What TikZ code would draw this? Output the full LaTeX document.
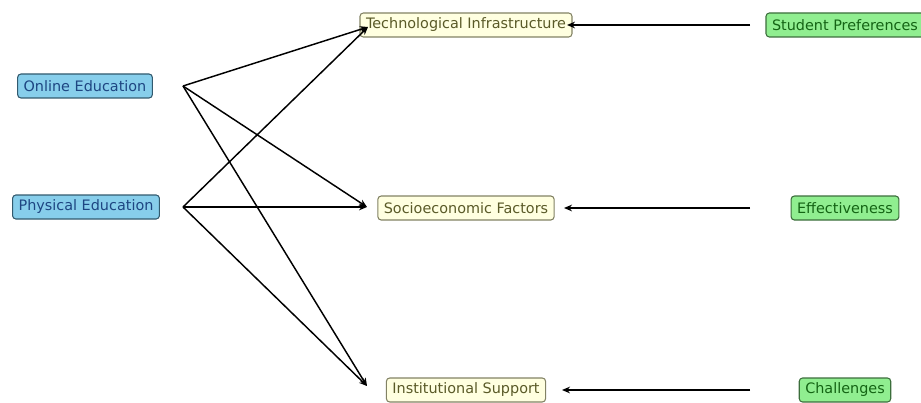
\documentclass[tikz,border=0pt]{standalone}
\usepackage{fontspec}
\setmainfont{DejaVu Sans}
\usepackage{xcolor}
\usepackage{tikz}
\usetikzlibrary{arrows.meta,positioning}
\definecolor{edublue}{RGB}{135,206,235}
\definecolor{edublueline}{RGB}{50,90,110}
\definecolor{edubluetext}{RGB}{30,70,130}
\definecolor{factyellow}{RGB}{255,255,224}
\definecolor{factyellowline}{RGB}{130,130,100}
\definecolor{factyellowtext}{RGB}{90,90,40}
\definecolor{outgreen}{RGB}{144,238,144}
\definecolor{outgreenline}{RGB}{60,110,60}
\definecolor{outgreentext}{RGB}{20,100,20}

\begin{document}
\begin{tikzpicture}[
    x=0.75pt, y=-0.75pt,
    mode/.style={rectangle, draw=edublueline, fill=edublue, rounded corners=2.5pt, line width=0.8pt, minimum height=18pt, inner xsep=4.5pt, text=edubluetext, font=\fontsize{10.8}{12}\selectfont},
    factor/.style={rectangle, draw=factyellowline, fill=factyellow, rounded corners=2.5pt, line width=0.8pt, minimum height=18pt, inner xsep=4.5pt, text=factyellowtext, font=\fontsize{10.8}{12}\selectfont},
    outcome/.style={rectangle, draw=outgreenline, fill=outgreen, rounded corners=2.5pt, line width=0.8pt, minimum height=18pt, inner xsep=4.5pt, text=outgreentext, font=\fontsize{10.8}{12}\selectfont},
    link/.style={line width=1.1pt, -{Stealth[length=6pt,width=5pt]}}
]
    \useasboundingbox (0,0) rectangle (921,403);

    % boxes
    \node[mode] (online) at (85,86) {Online Education};
    \node[mode] (physical) at (86,207) {Physical Education};
    \node[factor] (tech) at (466,25) {Technological Infrastructure};
    \node[factor] (socio) at (466,208) {Socioeconomic Factors};
    \node[factor] (inst) at (466,390) {Institutional Support};
    \node[outcome] (prefs) at (845,25) {Student Preferences};
    \node[outcome] (effect) at (845,208) {Effectiveness};
    \node[outcome] (chall) at (845,390) {Challenges};

    % edge ends
    \coordinate (onlineR) at (183,86);
    \coordinate (physicalR) at (183,207);
    \coordinate (techL) at (368,27);
    \coordinate (socioL) at (367,207);
    \coordinate (instL) at (367,386);
    \coordinate (techR) at (567,25);
    \coordinate (socioR) at (564,208);
    \coordinate (instR) at (562,390);
    \coordinate (prefsL) at (750,25);
    \coordinate (effectL) at (750,208);
    \coordinate (challL) at (750,390);

    \draw[link] (onlineR) -- (techL);
    \draw[link] (onlineR) -- (socioL);
    \draw[link] (onlineR) -- (instL);
    \draw[link] (physicalR) -- (techL);
    \draw[link] (physicalR) -- (socioL);
    \draw[link] (physicalR) -- (instL);
    \draw[link] (prefsL) -- (techR);
    \draw[link] (effectL) -- (socioR);
    \draw[link] (challL) -- (instR);
\end{tikzpicture}
\end{document}
